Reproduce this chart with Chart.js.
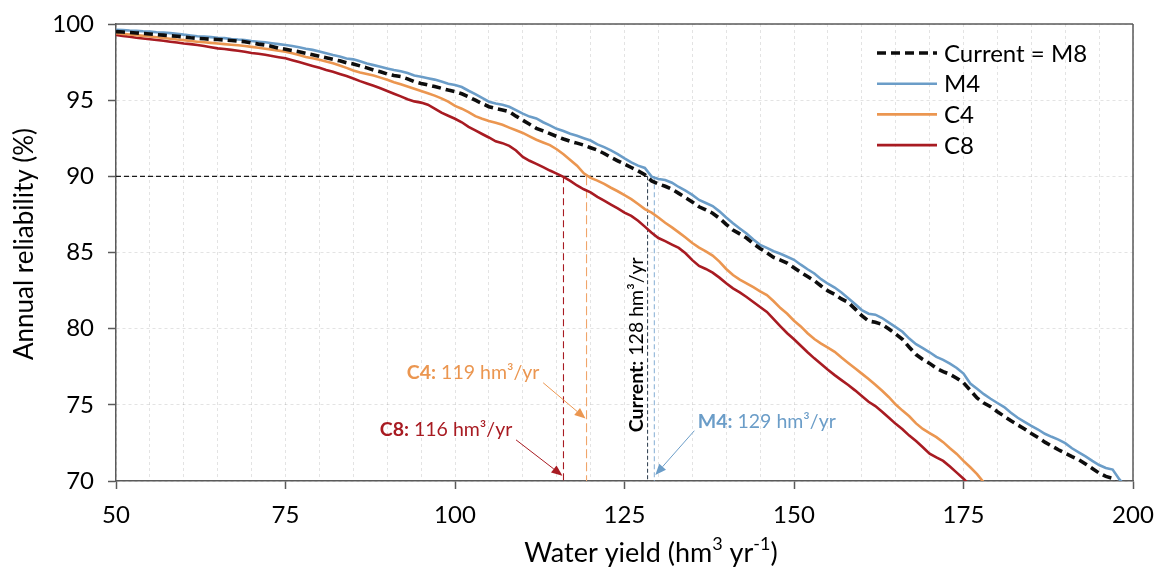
<!DOCTYPE html>
<html>
<head>
<meta charset="utf-8">
<script src="https://cdn.jsdelivr.net/npm/chart.js@4.4.1/dist/chart.umd.min.js"></script>
<style>
  html, body { margin: 0; padding: 0; background: #fff; }
  #wrap { width: 1162px; height: 572px; }
</style>
</head>
<body>
<div id="wrap"><canvas id="c" width="1162" height="572"></canvas></div>
<script>
// Water yield grid (hm3/yr), one value per unit from 50 upwards
const yields = [];
for (let v = 50; v <= 199; v++) yields.push(v);

// Annual reliability (%) for each configuration
const m4 = [
  99.62, 99.60, 99.57, 99.55, 99.52, 99.50, 99.46, 99.44, 99.40, 99.36,
  99.30, 99.25, 99.20, 99.18, 99.14, 99.10, 99.07, 99.02, 98.98, 98.95,
  98.88, 98.84, 98.80, 98.74, 98.68, 98.62, 98.55, 98.48, 98.38, 98.30,
  98.20, 98.08, 97.96, 97.86, 97.74, 97.68, 97.55, 97.40, 97.30, 97.20,
  97.08, 96.98, 96.90, 96.78, 96.62, 96.54, 96.44, 96.35, 96.22, 96.08,
  95.99, 95.86, 95.62, 95.40, 95.15, 94.90, 94.78, 94.70, 94.57, 94.35,
  94.12, 93.92, 93.80, 93.55, 93.35, 93.12, 92.98, 92.80, 92.66, 92.50,
  92.35, 92.10, 91.92, 91.70, 91.46, 91.18, 90.92, 90.70, 90.55, 89.98,
  89.82, 89.76, 89.58, 89.30, 89.06, 88.78, 88.45, 88.25, 88.05, 87.70,
  87.30, 86.92, 86.58, 86.25, 85.85, 85.50, 85.30, 85.08, 84.92, 84.72,
  84.52, 84.20, 83.90, 83.62, 83.25, 82.95, 82.70, 82.38, 82.00, 81.62,
  81.22, 80.98, 80.92, 80.70, 80.40, 80.10, 79.80, 79.35, 78.98, 78.72,
  78.45, 78.15, 77.95, 77.70, 77.42, 77.05, 76.40, 76.05, 75.70, 75.40,
  75.12, 74.85, 74.48, 74.15, 73.88, 73.62, 73.38, 73.10, 72.90, 72.72,
  72.48, 72.15, 71.88, 71.62, 71.32, 71.05, 70.85, 70.75, 70.10, 69.60
];
const current = [
  99.50, 99.47, 99.44, 99.41, 99.38, 99.34, 99.30, 99.27, 99.23, 99.20,
  99.15, 99.10, 99.06, 99.03, 99.00, 98.98, 98.95, 98.92, 98.88, 98.84,
  98.76, 98.68, 98.62, 98.53, 98.42, 98.34, 98.26, 98.18, 98.08, 97.98,
  97.88, 97.78, 97.68, 97.58, 97.46, 97.38, 97.25, 97.12, 96.98, 96.87,
  96.72, 96.62, 96.55, 96.40, 96.22, 96.10, 96.00, 95.90, 95.78, 95.66,
  95.56, 95.42, 95.22, 95.00, 94.78, 94.57, 94.46, 94.36, 94.24, 93.95,
  93.68, 93.42, 93.15, 92.98, 92.80, 92.62, 92.45, 92.30, 92.18, 92.05,
  91.88, 91.72, 91.50, 91.25, 91.02, 90.80, 90.58, 90.36, 90.10, 89.70,
  89.50, 89.35, 89.15, 88.88, 88.60, 88.32, 88.00, 87.80, 87.58, 87.25,
  86.85, 86.48, 86.22, 85.95, 85.58, 85.27, 84.98, 84.68, 84.50, 84.30,
  84.00, 83.70, 83.42, 83.15, 82.80, 82.48, 82.25, 81.95, 81.72, 81.30,
  80.85, 80.50, 80.42, 80.28, 79.98, 79.65, 79.30, 78.78, 78.30, 77.98,
  77.72, 77.40, 77.18, 77.00, 76.75, 76.45, 75.95, 75.45, 75.12, 74.88,
  74.55, 74.25, 73.95, 73.68, 73.42, 73.12, 72.85, 72.55, 72.30, 72.05,
  71.82, 71.60, 71.40, 71.12, 70.82, 70.52, 70.30, 70.18, 69.50
];
const c4 = [
  99.39, 99.35, 99.31, 99.27, 99.22, 99.18, 99.13, 99.08, 99.03, 98.98,
  98.94, 98.88, 98.84, 98.80, 98.76, 98.72, 98.68, 98.64, 98.60, 98.56,
  98.50, 98.44, 98.38, 98.32, 98.25, 98.18, 98.08, 97.96, 97.84, 97.75,
  97.65, 97.54, 97.42, 97.28, 97.12, 96.95, 96.82, 96.72, 96.62, 96.48,
  96.34, 96.18, 96.05, 95.90, 95.75, 95.60, 95.45, 95.30, 95.12, 94.90,
  94.62, 94.44, 94.22, 93.95, 93.78, 93.64, 93.52, 93.38, 93.20, 93.02,
  92.85, 92.62, 92.40, 92.22, 92.05, 91.78, 91.45, 91.08, 90.70, 90.20,
  89.90, 89.72, 89.50, 89.25, 89.02, 88.76, 88.50, 88.18, 87.85, 87.62,
  87.30, 86.95, 86.65, 86.32, 85.98, 85.62, 85.32, 85.08, 84.80, 84.40,
  83.92, 83.52, 83.22, 82.98, 82.72, 82.45, 82.20, 81.80, 81.35, 80.98,
  80.52, 80.15, 79.70, 79.32, 79.02, 78.75, 78.48, 78.10, 77.75, 77.40,
  77.05, 76.70, 76.32, 75.92, 75.50, 75.02, 74.62, 74.25, 73.78, 73.42,
  73.15, 72.88, 72.55, 72.15, 71.78, 71.32, 70.90, 70.45, 69.90
];
const c8 = [
  99.28, 99.22, 99.16, 99.10, 99.05, 99.00, 98.95, 98.90, 98.84, 98.78,
  98.72, 98.68, 98.62, 98.56, 98.48, 98.40, 98.36, 98.30, 98.24, 98.18,
  98.10, 98.05, 97.98, 97.90, 97.82, 97.75, 97.62, 97.50, 97.38, 97.25,
  97.12, 96.98, 96.87, 96.72, 96.58, 96.42, 96.25, 96.10, 95.95, 95.78,
  95.60, 95.42, 95.25, 95.06, 94.92, 94.84, 94.70, 94.45, 94.18, 93.98,
  93.78, 93.55, 93.25, 93.02, 92.78, 92.55, 92.30, 92.18, 92.00, 91.70,
  91.28, 91.02, 90.82, 90.60, 90.38, 90.18, 89.96, 89.70, 89.40, 89.15,
  88.95, 88.65, 88.40, 88.15, 87.90, 87.62, 87.40, 87.08, 86.70, 86.30,
  85.95, 85.75, 85.52, 85.30, 84.95, 84.50, 84.12, 83.92, 83.68, 83.35,
  82.98, 82.65, 82.38, 82.08, 81.75, 81.42, 81.10, 80.62, 80.15, 79.70,
  79.30, 78.88, 78.45, 78.05, 77.68, 77.30, 76.95, 76.62, 76.30, 75.95,
  75.58, 75.20, 74.92, 74.55, 74.15, 73.75, 73.40, 72.98, 72.62, 72.22,
  71.80, 71.55, 71.32, 70.95, 70.55, 70.15, 69.70
];

// Yield delivered at 90 % reliability by each configuration
const targetReliability = 90;
const yieldAtTarget = { C8: 116, C4: 119.4, Current: 128.4, M4: 129.4 };

// Axis ticks
const xRange = [50, 200];
const yRange = [70, 100];
const xLabelStep = 25;
const gridStep = 5;

const FONT = "Lato, 'Open Sans', 'Liberation Sans', sans-serif";
const COLORS = { M4: '#6b9dc8', C4: '#eb9650', C8: '#a81b22', Current: '#0d0d0d' };

const toPoints = arr => arr.map((v, i) => ({ x: yields[i], y: v }));

const datasets = [
  { label: 'C8', data: toPoints(c8), borderColor: COLORS.C8, borderWidth: 2.6, order: 4 },
  { label: 'C4', data: toPoints(c4), borderColor: COLORS.C4, borderWidth: 2.6, order: 3 },
  { label: 'M4', data: toPoints(m4), borderColor: COLORS.M4, borderWidth: 2.6, order: 2 },
  { label: 'Current = M8', data: toPoints(current), borderColor: COLORS.Current, borderWidth: 3.6, borderDash: [9, 5], order: 1 }
];

function line(ctx, x1, y1, x2, y2) {
  ctx.beginPath(); ctx.moveTo(x1, y1); ctx.lineTo(x2, y2); ctx.stroke();
}

function arrow(ctx, x1, y1, x2, y2, color) {
  ctx.save();
  ctx.strokeStyle = color; ctx.fillStyle = color; ctx.lineWidth = 1; ctx.setLineDash([]);
  const a = Math.atan2(y2 - y1, x2 - x1);
  const len = 11, w = 4.5;
  const bx = x2 - len * Math.cos(a), by = y2 - len * Math.sin(a);
  line(ctx, x1, y1, bx, by);
  ctx.beginPath();
  ctx.moveTo(x2, y2);
  ctx.lineTo(bx + w * Math.sin(a), by - w * Math.cos(a));
  ctx.lineTo(bx - w * Math.sin(a), by + w * Math.cos(a));
  ctx.closePath(); ctx.fill();
  ctx.restore();
}

// Label with bold prefix followed by regular text
function richLabel(ctx, x, y, bold, rest, color, size) {
  ctx.save();
  ctx.fillStyle = color; ctx.textBaseline = 'middle'; ctx.textAlign = 'left';
  ctx.font = `bold ${size}px ${FONT}`;
  ctx.fillText(bold, x, y);
  const w = ctx.measureText(bold).width;
  ctx.font = `${size}px ${FONT}`;
  ctx.fillText(rest, x + w, y);
  ctx.restore();
}

// Text runs with optional superscripts, centred on (cx, cy)
function supText(ctx, cx, cy, runs, size) {
  ctx.save();
  ctx.fillStyle = '#000'; ctx.textBaseline = 'middle'; ctx.textAlign = 'left';
  const supSize = Math.round(size * 0.68);
  let total = 0;
  const widths = runs.map(([t, sup]) => {
    ctx.font = `${sup ? supSize : size}px ${FONT}`;
    const w = ctx.measureText(t).width; total += w; return w;
  });
  let x = cx - total / 2;
  runs.forEach(([t, sup], i) => {
    ctx.font = `${sup ? supSize : size}px ${FONT}`;
    ctx.fillText(t, x, sup ? cy - size * 0.33 : cy);
    x += widths[i];
  });
  ctx.restore();
}

const guidePlugin = {
  id: 'guides',
  beforeDatasetsDraw(chart) {
    const { ctx, scales: { x, y } } = chart;
    const y90 = y.getPixelForValue(targetReliability);
    const yBot = y.getPixelForValue(yRange[0]);
    ctx.save();
    ctx.lineWidth = 1.1;
    ctx.strokeStyle = '#1a1a1a'; ctx.setLineDash([5, 3]);
    line(ctx, x.getPixelForValue(xRange[0]), y90, x.getPixelForValue(yieldAtTarget.Current), y90);
    const vlines = [
      ['C8', '#a81b22', [7, 4]],
      ['C4', '#f0a56a', [9, 4]],
      ['Current', '#3a4a5a', [4, 2.5]],
      ['M4', '#8fb5d8', [5, 3]]
    ];
    for (const [k, col, dash] of vlines) {
      const px = x.getPixelForValue(yieldAtTarget[k]);
      ctx.strokeStyle = col; ctx.setLineDash(dash);
      line(ctx, px, y90, px, yBot);
    }
    ctx.restore();
  },
  afterDatasetsDraw(chart) {
    const { ctx, scales: { x, y } } = chart;
    const X = v => x.getPixelForValue(v), Y = v => y.getPixelForValue(v);
    const fs = 19.5;
    const fmt = k => `${Math.round(yieldAtTarget[k])} hm³/yr`;

    // C8
    richLabel(ctx, X(88.9), Y(73.34), 'C8:', ' ' + fmt('C8'), '#a81b22', fs);
    arrow(ctx, X(109.0), Y(72.7), X(yieldAtTarget.C8) - 1, Y(70.35), '#a81b22');
    // C4
    richLabel(ctx, X(92.9), Y(77.08), 'C4:', ' ' + fmt('C4'), '#eb9650', fs);
    arrow(ctx, X(113.0), Y(76.45), X(yieldAtTarget.C4) - 1, Y(74.1), '#eb9650');
    // M4
    richLabel(ctx, X(135.8), Y(73.87), 'M4:', ' ' + fmt('M4'), '#6b9dc8', fs);
    arrow(ctx, X(135.3), Y(73.3), X(yieldAtTarget.M4) + 1, Y(70.4), '#6b9dc8');
    // Current (vertical text)
    ctx.save();
    ctx.translate(X(126.8), Y(73.2));
    ctx.rotate(-Math.PI / 2);
    richLabel(ctx, 0, 0, 'Current:', ' ' + fmt('Current'), '#000', fs);
    ctx.restore();

    // Legend
    const area = chart.chartArea;
    const order = [3, 2, 1, 0];
    ctx.save();
    order.forEach((di, i) => {
      const ds = chart.data.datasets[di];
      const yy = area.top + 29 + i * 30.7;
      ctx.strokeStyle = ds.borderColor;
      ctx.lineWidth = ds.borderWidth;
      ctx.setLineDash(ds.borderDash || []);
      line(ctx, area.right - 256, yy, area.right - 196, yy);
      ctx.setLineDash([]);
      ctx.fillStyle = '#000';
      ctx.font = `24px ${FONT}`;
      ctx.textBaseline = 'middle';
      ctx.fillText(ds.label, area.right - 189, yy + 1);
    });
    ctx.restore();
  },
  afterDraw(chart) {
    const { ctx, chartArea: a } = chart;
    ctx.save();
    ctx.strokeStyle = '#5a5a5a'; ctx.lineWidth = 1.5; ctx.setLineDash([]);
    line(ctx, a.left, a.top, a.right, a.top);
    line(ctx, a.right, a.top, a.right, a.bottom);
    ctx.restore();

    // Axis titles
    supText(ctx, 651, 553, [['Water yield (hm', false], ['3', true], [' yr', false], ['-1', true], [')', false]], 27);
    ctx.save();
    ctx.translate(25, 244);
    ctx.rotate(-Math.PI / 2);
    supText(ctx, 0, 0, [['Annual reliability (%)', false]], 26);
    ctx.restore();
  }
};

new Chart(document.getElementById('c'), {
  type: 'line',
  data: { datasets },
  options: {
    responsive: false,
    animation: false,
    layout: { padding: { top: 24, right: 29, left: 0, bottom: 0 } },
    elements: { point: { radius: 0 }, line: { tension: 0 } },
    plugins: { legend: { display: false }, tooltip: { enabled: false } },
    scales: {
      x: {
        type: 'linear', min: xRange[0], max: xRange[1],
        afterFit: s => { s.height = 91; s.paddingLeft = 0; s.paddingRight = 0; },
        ticks: {
          stepSize: gridStep, autoSkip: false, maxRotation: 0, padding: 12,
          color: '#000', font: { family: FONT, size: 24 },
          callback: v => (v % xLabelStep === 0 ? String(v) : '')
        },
        grid: {
          color: 'rgba(0,0,0,0.11)', lineWidth: 1, tickLength: 8, tickWidth: 1.5,
          tickColor: c => (c.tick && c.tick.value % xLabelStep === 0 ? '#5a5a5a' : 'rgba(0,0,0,0)')
        },
        border: { display: true, color: '#5a5a5a', width: 1.5, dash: [3, 3] }
      },
      y: {
        type: 'linear', min: yRange[0], max: yRange[1],
        afterFit: s => { s.width = 116; s.paddingTop = 0; s.paddingBottom = 0; },
        ticks: { stepSize: gridStep, padding: 14, color: '#000', font: { family: FONT, size: 24 } },
        grid: { color: 'rgba(0,0,0,0.11)', lineWidth: 1, tickLength: 8, tickWidth: 1.5, tickColor: '#5a5a5a' },
        border: { display: true, color: '#5a5a5a', width: 1.5, dash: [3, 3] }
      }
    }
  },
  plugins: [guidePlugin]
});
</script>
</body>
</html>
